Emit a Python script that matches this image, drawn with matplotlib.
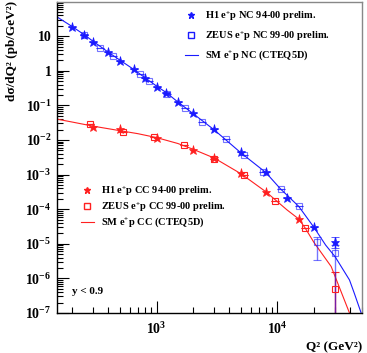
import numpy as np
import matplotlib
matplotlib.use("Agg")
import matplotlib.pyplot as plt
from matplotlib.lines import Line2D
from matplotlib.ticker import FixedLocator, NullFormatter

plt.rcParams['font.family'] = 'Liberation Serif'
plt.rcParams['font.weight'] = 'bold'
plt.rcParams['mathtext.fontset'] = 'custom'
plt.rcParams['mathtext.rm'] = 'Liberation Serif:bold'
plt.rcParams['mathtext.it'] = 'Liberation Serif:italic:bold'
plt.rcParams['mathtext.bf'] = 'Liberation Serif:bold'

# H1 e+p NC 94-00
h1_nc_q2 = [200, 250, 300, 400, 500, 650, 800, 1000, 1200, 1500, 2000, 3000,
            5000, 8000, 12000, 20000, 30000]
h1_nc_xs = [18.8, 11.0, 6.9, 3.4, 1.96, 1.1, 0.63, 0.35, 0.233, 0.128, 0.059,
            0.0204, 0.00435, 0.00116, 2.07e-4, 3.0e-5, 1.15e-5]
h1_nc_lo = [0] * 16 + [7.4e-6]
h1_nc_hi = [0] * 16 + [1.54e-5]

# ZEUS e+p NC 99-00
zeus_nc_q2 = [250, 343, 435, 724, 863, 1216, 1703, 2390, 3767, 5333, 7550,
              10590, 15000, 21200, 30100]
zeus_nc_xs = [10.8, 4.66, 2.68, 0.81, 0.52, 0.21, 0.082, 0.0338, 0.0105,
              0.00357, 0.0012, 3.84e-4, 1.24e-4, 1.1e-5, 5.3e-6]
zeus_nc_lo = [0] * 13 + [3.4e-6, 0]
zeus_nc_hi = [0] * 13 + [1.6e-5, 9e-6]

# H1 e+p CC 94-00
h1_cc_q2 = [300, 500, 1000, 2000, 3000, 5000, 8000, 15000]
h1_cc_xs = [0.0242, 0.0208, 0.0116, 0.00514, 0.00296, 0.00109, 3.2e-4, 5.2e-5]

# ZEUS e+p CC 99-00
zeus_cc_q2 = [280, 530, 950, 1700, 3000, 5300, 9500, 17000, 30000]
zeus_cc_xs = [0.0284, 0.0174, 0.0124, 0.00716, 0.0029, 9.7e-4, 1.73e-4,
              2.77e-5, 4.9e-7]
zeus_cc_lo = [0] * 8 + [4.9e-7]
zeus_cc_hi = [0] * 8 + [1.56e-6]

# SM (CTEQ5D) predictions
sm_nc_q2 = [150, 200, 250, 300, 400, 500, 650, 800, 1000, 1200, 1500, 2000,
            3000, 5000, 8000, 10600, 15000, 20000, 25000, 30000, 39400, 43200,
            49200]
sm_nc_xs = [36, 19, 11.2, 7.0, 3.4, 2.0, 1.08, 0.63, 0.36, 0.235, 0.125,
            0.058, 0.0195, 0.0042, 0.00115, 3.84e-4, 1.2e-4, 3.0e-5, 9.2e-6,
            4.2e-6, 9e-7, 3.7e-7, 1e-7]
sm_cc_q2 = [150, 200, 300, 500, 700, 1000, 1500, 2000, 3000, 5000, 8000,
            12000, 15000, 17000, 20000, 23700, 27800, 33600, 39400]
sm_cc_xs = [0.040, 0.033, 0.025, 0.0185, 0.0152, 0.0117, 0.0079, 0.0054,
            0.0030, 0.00105, 3.2e-4, 9.5e-5, 5.2e-5, 2.8e-5, 1.1e-5, 4.8e-6,
            2.2e-6, 4.1e-7, 1e-7]

y_ticks = [1e-7, 1e-6, 1e-5, 1e-4, 1e-3, 1e-2, 1e-1, 1, 10]
y_labels = [r'$\mathbf{10^{-7}}$', r'$\mathbf{10^{-6}}$', r'$\mathbf{10^{-5}}$',
            r'$\mathbf{10^{-4}}$', r'$\mathbf{10^{-3}}$', r'$\mathbf{10^{-2}}$',
            r'$\mathbf{10^{-1}}$', '1', '10']
x_ticks = [1e3, 1e4]
x_labels = [r'$\mathbf{10^{3}}$', r'$\mathbf{10^{4}}$']

blue = '#1a1aff'
red = '#ff2020'

fig = plt.figure(figsize=(3.67, 3.53), dpi=100)
ax = fig.add_axes([57 / 367, 40 / 353, 305 / 367, 311 / 353])
ax.set_xscale('log')
ax.set_yscale('log')

ax.plot(sm_nc_q2, sm_nc_xs, color=blue, lw=0.8)
ax.plot(sm_cc_q2, sm_cc_xs, color=red, lw=0.8)

cc_hi = np.array(zeus_cc_hi) - np.array(zeus_cc_xs) * (np.array(zeus_cc_hi) > 0)
ax.errorbar(zeus_cc_q2, zeus_cc_xs, yerr=[zeus_cc_lo, cc_hi],
            fmt='s', mfc='none', mec=red, ecolor=red, ms=5, mew=0.8,
            elinewidth=1.0, capsize=3)
ax.plot(h1_cc_q2, h1_cc_xs, '*', color=red, ms=6.5, mew=0.5)

nc_hi = np.array(zeus_nc_hi) - np.array(zeus_nc_xs) * (np.array(zeus_nc_hi) > 0)
nc_lo = np.array(zeus_nc_xs) - np.array(zeus_nc_lo)
nc_lo = np.where(np.array(zeus_nc_hi) > 0, nc_lo, 0)
nc_lo[-1] = zeus_nc_xs[-1]
ax.errorbar(zeus_nc_q2, zeus_nc_xs, yerr=[nc_lo, nc_hi],
            fmt='s', mfc='none', mec=blue, ecolor=blue, ms=5, mew=0.8,
            elinewidth=1.0, capsize=3, alpha=0.6)
h1_hi = np.array(h1_nc_hi) - np.array(h1_nc_xs) * (np.array(h1_nc_hi) > 0)
h1_lo = np.where(np.array(h1_nc_lo) > 0, np.array(h1_nc_xs) - np.array(h1_nc_lo), 0)
ax.errorbar(h1_nc_q2, h1_nc_xs, yerr=[h1_lo, h1_hi], fmt='*', color=blue,
            ms=6.5, mew=0.5, elinewidth=1.0, capsize=3)

ax.set_xlim(150, 5e4)
ax.set_ylim(1e-7, 97)

ax.yaxis.set_major_locator(FixedLocator(y_ticks))
ax.set_yticklabels(y_labels, fontsize=10)
ax.yaxis.set_minor_locator(FixedLocator(
    [m * 10.0 ** e for e in range(-7, 2) for m in range(2, 10)]))
ax.yaxis.set_minor_formatter(NullFormatter())
ax.xaxis.set_major_locator(FixedLocator(x_ticks))
ax.set_xticklabels(x_labels, fontsize=10)
ax.xaxis.set_minor_locator(FixedLocator(
    [m * 10.0 ** e for e in range(2, 5) for m in range(2, 10)]))
ax.xaxis.set_minor_formatter(NullFormatter())

ax.tick_params(which='both', direction='in', top=False, right=False, width=0.8)
ax.tick_params(which='major', length=8.5, pad=4)
ax.tick_params(which='minor', length=4.3)
ax.tick_params(axis='x', which='major', pad=6)
for s in ['top', 'right']:
    ax.spines[s].set_color('#888888')
for s in ax.spines.values():
    s.set_linewidth(1.0)

fs = 7.5
nc_handles = [Line2D([], [], marker='*', color=blue, ls='none', ms=5),
              Line2D([], [], marker='s', mfc='none', mec=blue, ls='none', ms=4.5),
              Line2D([], [], color=blue, lw=0.8)]
nc_leg = ax.legend(nc_handles,
                   [r'H1 e$^{+}$p NC 94-00 prelim.',
                    r'ZEUS e$^{+}$p NC 99-00 prelim.',
                    r'SM e$^{+}$p NC (CTEQ5D)'],
                   loc='upper left', bbox_to_anchor=(185 / 367, 1 - 9 / 353),
                   bbox_transform=fig.transFigure, frameon=False,
                   fontsize=fs, handlelength=1.2, handletextpad=0.7,
                   labelspacing=0.6, borderaxespad=0, borderpad=0)
ax.add_artist(nc_leg)

cc_handles = [Line2D([], [], marker='*', color=red, ls='none', ms=5),
              Line2D([], [], marker='s', mfc='none', mec=red, ls='none', ms=4.5),
              Line2D([], [], color=red, lw=0.8)]
ax.legend(cc_handles,
          [r'H1 e$^{+}$p CC 94-00 prelim.',
           r'ZEUS e$^{+}$p CC 99-00 prelim.',
           r'SM e$^{+}$p CC (CTEQ5D)'],
          loc='upper left', bbox_to_anchor=(81 / 367, 1 - 184 / 353),
          bbox_transform=fig.transFigure, frameon=False,
          fontsize=fs, handlelength=1.2, handletextpad=0.7,
          labelspacing=0.22, borderaxespad=0, borderpad=0)

ax.text(0.05, 0.06, 'y < 0.9', transform=ax.transAxes, fontsize=8,
        fontweight='bold')

fig.text(12.5 / 367, 1 - 1 / 353, 'dσ/dQ² (pb/GeV²)', rotation=90,
         ha='center', va='top', fontsize=9.5, fontweight='bold')
fig.text(362 / 367, 1 - 347 / 353, 'Q² (GeV²)', ha='right', va='center',
         fontsize=9.5, fontweight='bold')

fig.savefig('out.png', dpi=100)
